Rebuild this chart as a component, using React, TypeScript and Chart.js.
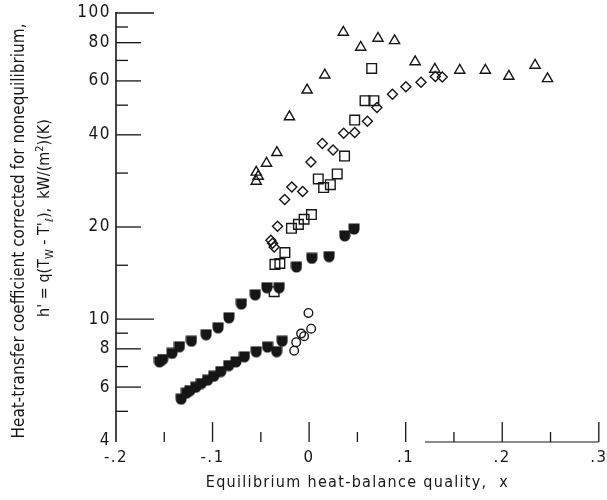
import React, { useEffect, useRef } from 'react';
import { Chart, registerables } from 'chart.js';

Chart.register(...registerables);

// ---- data (x: equilibrium quality, y: h' in kW/(m2)(K)) ----
const triangleX = [-0.0548, -0.0527, -0.0548, -0.0441, -0.0334, -0.0204, -0.0021, 0.0162, 0.0354, 0.0534, 0.0713, 0.0885, 0.1098, 0.1302, 0.156, 0.1825, 0.2069, 0.234, 0.2469];
const triangleY = [30.2, 29.3, 28.2, 32.3, 35.0, 45.8, 56.0, 62.7, 86.5, 77.3, 82.7, 81.2, 69.3, 65.5, 65.0, 65.0, 62.1, 67.5, 61.0];

const squareX = [0.0648, 0.0579, 0.0671, 0.0472, 0.0367, 0.0291, 0.0095, 0.015, 0.022, 0.0024, -0.0052, -0.0111, -0.0183, -0.0251, -0.0303, -0.0354, -0.0362];
const squareY = [65.9, 51.7, 51.7, 44.7, 34.1, 29.8, 28.7, 26.9, 27.5, 21.96, 21.2, 20.4, 19.8, 16.5, 15.2, 15.1, 12.3];

const diamondX = [0.1379, 0.1307, 0.1159, 0.1002, 0.0863, 0.0702, 0.0604, 0.0472, 0.0358, 0.0248, 0.0137, 0.0019, -0.0067, -0.0179, -0.0253, -0.0327, -0.0396, -0.0379, -0.0362];
const diamondY = [61.8, 62.0, 59.4, 57.4, 54.3, 49.1, 44.3, 40.7, 40.5, 35.7, 37.5, 32.6, 26.1, 27.0, 24.6, 20.1, 18.1, 17.7, 17.2];

const filledUpperX = [-0.155, -0.1516, -0.142, -0.1343, -0.1219, -0.1067, -0.0943, -0.083, -0.0702, -0.0558, -0.0437, -0.031, -0.0131, 0.0028, 0.0207, 0.0369, 0.0465];
const filledUpperY = [7.25, 7.38, 7.73, 8.12, 8.47, 8.89, 9.37, 10.1, 11.2, 12.0, 12.66, 12.66, 14.8, 15.8, 16.0, 18.7, 19.7];

const filledLowerX = [-0.1325, -0.1271, -0.1234, -0.1173, -0.1116, -0.1051, -0.0987, -0.0914, -0.0832, -0.0757, -0.0671, -0.0548, -0.0431, -0.0336, -0.0279];
const filledLowerY = [5.48, 5.73, 5.84, 5.99, 6.16, 6.32, 6.51, 6.74, 7.05, 7.25, 7.53, 7.82, 8.1, 7.83, 8.47];

const circleX = [-0.0007, 0.0021, -0.0083, -0.0052, -0.0134, -0.0155];
const circleY = [10.48, 9.31, 8.97, 8.8, 8.41, 7.89];

// ---- axes ----
const xTickValues = [-0.2, -0.1, 0, 0.1, 0.2, 0.3];
const xMinorTicks = [-0.15, -0.05, 0.05, 0.15, 0.25];
const yTickValues = [4, 6, 8, 10, 20, 40, 60, 80, 100];
const yMinorTicks = [5, 7, 9, 15, 30, 50, 70, 90];
const yDecadeTicks = [10, 100];

const xTitle = 'Equilibrium heat-balance quality,  x';
const yTitleLine1 = 'Heat-transfer coefficient corrected for nonequilibrium,';
const yTitleLine2 = [
  { t: "h' = q(T" },
  { t: 'W', sub: true },
  { t: " - T'" },
  { t: 'ℓ', sub: true },
  { t: '),  kW/(m' },
  { t: '2', sup: true },
  { t: ')(K)' },
];

const INK = '#161616';
const NARROW = '"Liberation Sans Narrow", "DejaVu Sans Condensed", sans-serif';

function pts(xs: number[], ys: number[]) {
  return xs.map((x, i) => ({ x, y: ys[i] }));
}

function formatX(v: number) {
  if (Math.abs(v) < 1e-9) return '0';
  return v.toFixed(1).replace('0.', '.');
}

const axisDecor = {
  id: 'axisDecor',
  beforeDraw(chart: any) {
    (chart.ctx as any).letterSpacing = '1.5px';
  },
  afterDraw(chart: any) {
    const { ctx } = chart;
    (ctx as any).letterSpacing = '0px';
    const xs = chart.scales.x;
    const ys = chart.scales.y;
    const x0 = xs.getPixelForValue(-0.2);
    const yb = ys.getPixelForValue(4);
    const yt = ys.getPixelForValue(100);
    ctx.save();
    ctx.strokeStyle = INK;
    ctx.lineWidth = 1.6;
    ctx.beginPath();
    ctx.moveTo(x0, yt - 1);
    ctx.lineTo(x0, yb + 1);
    ctx.stroke();
    ctx.lineWidth = 1.3;
    const yTick = (v: number, len: number) => {
      const p = ys.getPixelForValue(v);
      ctx.beginPath();
      ctx.moveTo(x0, p);
      ctx.lineTo(x0 + len, p);
      ctx.stroke();
    };
    yTickValues.forEach((v) => { if (v !== 4) yTick(v, yDecadeTicks.includes(v) ? 38 : 25); });
    yMinorTicks.forEach((v) => yTick(v, 12));
    const xTick = (v: number, len: number) => {
      const p = xs.getPixelForValue(v);
      ctx.beginPath();
      ctx.moveTo(p, yb + 1);
      ctx.lineTo(p, yb + 1 - len);
      ctx.stroke();
    };
    xTickValues.forEach((v) => { if (v !== -0.2) xTick(v, 20); });
    xMinorTicks.forEach((v) => xTick(v, 10));
    ctx.lineWidth = 1.1;
    ctx.beginPath();
    ctx.moveTo(xs.getPixelForValue(0.12), yb + 1);
    ctx.lineTo(xs.getPixelForValue(0.3), yb + 1);
    ctx.stroke();

    ctx.fillStyle = INK;
    ctx.textBaseline = 'middle';

    // x title
    ctx.save();
    (ctx as any).letterSpacing = '1.3px';
    ctx.font = '16px "DejaVu Sans Condensed", "DejaVu Sans", sans-serif';
    ctx.textAlign = 'left';
    const tw = ctx.measureText(xTitle).width;
    ctx.fillText(xTitle, (xs.left + xs.right) / 2 - tw / 2, 483);
    ctx.restore();

    // y title (rotated, with sub/superscripts)
    const base = `16px ${NARROW}`;
    const small = `11px ${NARROW}`;
    ctx.save();
    ctx.translate(20, 231);
    ctx.rotate(-Math.PI / 2);
    ctx.font = `17px ${NARROW}`;
    ctx.textAlign = 'center';
    ctx.fillText(yTitleLine1, 0, 0);
    ctx.restore();

    ctx.save();
    ctx.translate(45, 218);
    ctx.rotate(-Math.PI / 2);
    ctx.textAlign = 'left';
    let total = 0;
    yTitleLine2.forEach((s: any) => {
      ctx.font = s.sub || s.sup ? small : base;
      total += ctx.measureText(s.t).width;
    });
    let cx = -total / 2;
    yTitleLine2.forEach((s: any) => {
      ctx.font = s.sub || s.sup ? small : base;
      const dy = s.sub ? 5 : s.sup ? -5 : 0;
      ctx.fillText(s.t, cx, dy);
      cx += ctx.measureText(s.t).width;
    });
    ctx.restore();
    ctx.restore();
  },
};

function makeFilledMarker() {
  const c = document.createElement('canvas');
  c.width = 12;
  c.height = 12;
  const g = c.getContext('2d')!;
  g.fillStyle = INK;
  g.beginPath();
  g.moveTo(0.5, 0.5);
  g.lineTo(11.5, 0.5);
  g.lineTo(11.5, 6);
  g.arc(6, 6, 5.5, 0, Math.PI);
  g.closePath();
  g.fill();
  return c;
}

export default function App() {
  const ref = useRef<HTMLCanvasElement>(null);
  useEffect(() => {
    if (!ref.current) return;
    const filled = makeFilledMarker();
    const open = (label: string, data: any[], style: string, r: number) => ({
      label,
      data,
      pointStyle: style,
      pointRadius: r,
      pointBorderWidth: 1.4,
      pointBorderColor: INK,
      pointBackgroundColor: 'rgba(0,0,0,0)',
      showLine: false,
    });
    const chart = new Chart(ref.current, {
      type: 'scatter',
      data: {
        datasets: [
          open('triangles', pts(triangleX, triangleY), 'triangle', 5.9),
          open('squares', pts(squareX, squareY), 'rect', 6.8),
          open('diamonds', pts(diamondX, diamondY), 'rectRot', 5),
          open('circles', pts(circleX, circleY), 'circle', 4.3),
          { label: 'filled upper', data: pts(filledUpperX, filledUpperY), pointStyle: filled as any, pointRadius: 6, showLine: false },
          { label: 'filled lower', data: pts(filledLowerX, filledLowerY), pointStyle: filled as any, pointRadius: 6, showLine: false },
        ] as any,
      },
      options: {
        animation: false,
        responsive: false,
        events: [],
        layout: { padding: { top: 13, right: 7, left: 0, bottom: 0 } },
        plugins: { legend: { display: false }, tooltip: { enabled: false } },
        scales: {
          x: {
            type: 'linear',
            min: -0.2,
            max: 0.3,
            grid: { display: false, drawTicks: false },
            border: { display: false },
            afterBuildTicks: (s: any) => { s.ticks = xTickValues.map((value) => ({ value })); },
            afterFit: (s: any) => { s.height = 59; s.paddingLeft = 0; s.paddingRight = 0; },
            ticks: {
              callback: (v: any) => formatX(Number(v)),
              color: INK,
              font: { family: '"DejaVu Sans", sans-serif', size: 15 },
              padding: 8,
              maxRotation: 0,
              autoSkip: false,
            },
          },
          y: {
            type: 'logarithmic',
            min: 4,
            max: 100,
            grid: { display: false, drawTicks: false },
            border: { display: false },
            afterBuildTicks: (s: any) => { s.ticks = yTickValues.map((value) => ({ value })); },
            afterFit: (s: any) => { s.width = 116; s.paddingTop = 0; s.paddingBottom = 0; },
            ticks: {
              callback: (v: any) => String(v),
              color: INK,
              font: { family: NARROW, size: 17 },
              padding: 5,
              autoSkip: false,
            },
          },
        },
      },
      plugins: [axisDecor],
    } as any);
    return () => chart.destroy();
  }, []);
  return (
    <div style={{ position: 'absolute', left: 0, top: 0, width: 607, height: 500, background: '#fff' }}>
      <canvas ref={ref} width={607} height={500} />
    </div>
  );
}
